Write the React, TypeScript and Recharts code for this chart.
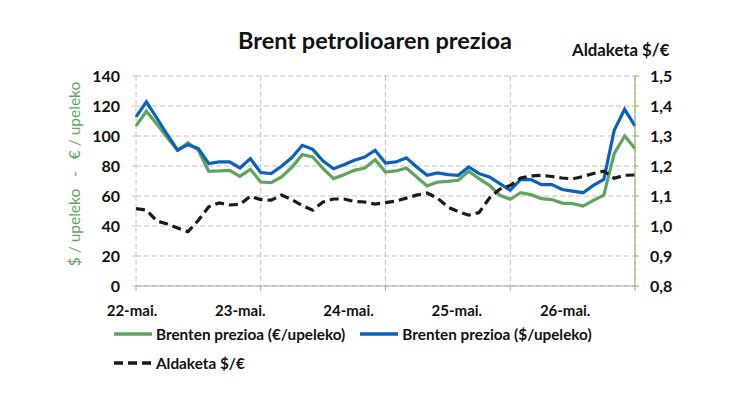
import {
  ComposedChart, Line, XAxis, YAxis, CartesianGrid,
} from 'recharts'

// 2-hour readings, 22-mai. 00:00 .. 26-mai. 00:00
const priceEur = [
  106.7, 116.5, 108, 99, 90.5, 95.3, 90.5, 76.5, 76.7, 77.1, 73.1, 77.8,
  69.3, 68.9, 72.7, 79.3, 87.6, 86, 78.2, 71.6, 74.2, 77.1, 78.7, 84.2,
  76, 76.7, 78.7, 72.7, 66.7, 69.3, 69.8, 70.5, 76.5, 71.6, 67.1, 60.5,
  57.8, 62.2, 60.9, 58.2, 57.6, 55.3, 54.9, 53.3, 57.1, 60.5, 88.2, 100, 91.6,
]
const priceUsd = [
  112.7, 122.7, 112, 101, 90.5, 94.2, 91.6, 81.6, 82.7, 82.7, 78.7, 84.9,
  75.6, 74.9, 79.8, 85.6, 93.8, 91.1, 83.3, 78.2, 80.9, 83.8, 86, 90.5,
  82, 82.7, 85.4, 79.4, 73.8, 75.4, 74.3, 73.8, 79.4, 74.9, 72.7, 68.3,
  63.8, 71.1, 70.9, 67.6, 67.6, 64.3, 63.3, 62.2, 67.1, 71.1, 103.8, 117.8, 106.7,
]
const usdPerEur = [
  1.058, 1.053, 1.017, 1.007, 0.993, 0.981, 1.019, 1.064, 1.077, 1.07, 1.072, 1.099,
  1.088, 1.086, 1.103, 1.088, 1.068, 1.053, 1.08, 1.09, 1.09, 1.082, 1.08, 1.073,
  1.078, 1.083, 1.093, 1.103, 1.11, 1.093, 1.063, 1.048, 1.036, 1.045, 1.093, 1.123,
  1.135, 1.16, 1.167, 1.169, 1.165, 1.16, 1.157, 1.165, 1.175, 1.183, 1.159, 1.169, 1.17,
]

const dayLabels = ['22-mai.', '23-mai.', '24-mai.', '25-mai.', '26-mai.']
const dayTicks = [0, 12, 24, 36, 48]
const priceTicks = [0, 20, 40, 60, 80, 100, 120, 140]
const rateTicks = [0.8, 0.9, 1.0, 1.1, 1.2, 1.3, 1.4, 1.5]

const GREEN = '#5ea45f'
const BLUE = '#0a62be'
const BLACK = '#1a1a1a'
const GRID = '#c0c0c0'
const FONT = 'Lato, sans-serif'

const rows = priceEur.map((eur, i) => ({
  i,
  eur,
  usd: priceUsd[i],
  rate: usdPerEur[i],
}))

const tickStyle = { fontSize: 16, fontWeight: 700, fill: '#111', fontFamily: FONT }

function LegendItem({ color, dashed, label }: { color: string; dashed?: boolean; label: string }) {
  return (
    <div style={{ display: 'flex', alignItems: 'center', marginRight: 14 }}>
      <svg width={40} height={6} style={{ marginRight: 3 }}>
        <line x1={1} y1={3} x2={39} y2={3} stroke={color} strokeWidth={3.5}
          strokeDasharray={dashed ? '9 5' : undefined} />
      </svg>
      <span>{label}</span>
    </div>
  )
}

export default function App() {
  return (
    <div style={{ position: 'absolute', left: 0, top: 0, width: 750, height: 400, background: '#fff', fontFamily: FONT }}>
      <div style={{ position: 'absolute', top: 26, width: 750, textAlign: 'center', fontSize: 23.5, fontWeight: 700, color: '#111' }}>
        Brent petrolioaren prezioa
      </div>
      <div style={{ position: 'absolute', top: 39, left: 572, fontSize: 16.8, fontWeight: 700, color: '#111' }}>
        Aldaketa $/€
      </div>
      <div style={{
        position: 'absolute', left: 74, top: 174, transform: 'translate(-50%, -50%) rotate(-90deg)',
        whiteSpace: 'pre', fontSize: 15.5, color: GREEN,
      }}>
        {'$ / upeleko   -   € / upeleko'}
      </div>

      <ComposedChart width={750} height={400} data={rows}
        margin={{ top: 76, right: 0, left: 0, bottom: 74 }}>
        <CartesianGrid yAxisId="l" stroke={GRID} strokeDasharray="5 3" />
        <XAxis
          dataKey="i"
          type="number"
          domain={[0, 48]}
          ticks={dayTicks}
          tickFormatter={() => ''}
          height={10}
          tickSize={5}
          stroke="#a6a6a6"
          tickLine={{ stroke: '#a6a6a6' }}
        />
        {/* day labels sit on their own axis, spaced a little tighter than the grid */}
        <XAxis
          xAxisId="lab"
          dataKey="i"
          type="number"
          domain={[0.037, 4.645]}
          allowDataOverflow
          ticks={[0, 1, 2, 3, 4]}
          interval={0}
          tickFormatter={(v: number) => dayLabels[v]}
          axisLine={false}
          tickLine={false}
          tickSize={0}
          tickMargin={9}
          height={30}
          tick={{ ...tickStyle, fontSize: 15 }}
        />
        <YAxis
          yAxisId="l"
          domain={[0, 140]}
          ticks={priceTicks}
          width={136}
          axisLine={false}
          tickSize={4}
          tickMargin={12}
          tickLine={{ stroke: GRID }}
          tick={tickStyle}
        />
        <YAxis
          yAxisId="r"
          orientation="right"
          domain={[0.8, 1.5]}
          ticks={rateTicks}
          tickFormatter={(v: number) => v.toFixed(1).replace('.', ',')}
          width={115}
          stroke="#8db255"
          tickSize={4}
          tickMargin={11}
          tick={tickStyle}
        />
        <Line yAxisId="l" dataKey="eur" stroke={GREEN} strokeWidth={3.2} dot={false}
          isAnimationActive={false} strokeLinejoin="miter" />
        <Line yAxisId="l" dataKey="usd" stroke={BLUE} strokeWidth={3.2} dot={false}
          isAnimationActive={false} strokeLinejoin="miter" />
        <Line yAxisId="r" dataKey="rate" stroke={BLACK} strokeWidth={3.2} strokeDasharray="9 5"
          dot={false} isAnimationActive={false} />
      </ComposedChart>

      <div style={{ position: 'absolute', left: 113, top: 325, fontSize: 15.3, fontWeight: 700, color: '#111' }}>
        <div style={{ display: 'flex' }}>
          <LegendItem color={GREEN} label="Brenten prezioa (€/upeleko)" />
          <LegendItem color={BLUE} label="Brenten prezioa ($/upeleko)" />
        </div>
        <div style={{ display: 'flex', marginTop: 11 }}>
          <LegendItem color={BLACK} dashed label="Aldaketa $/€" />
        </div>
      </div>
    </div>
  )
}
